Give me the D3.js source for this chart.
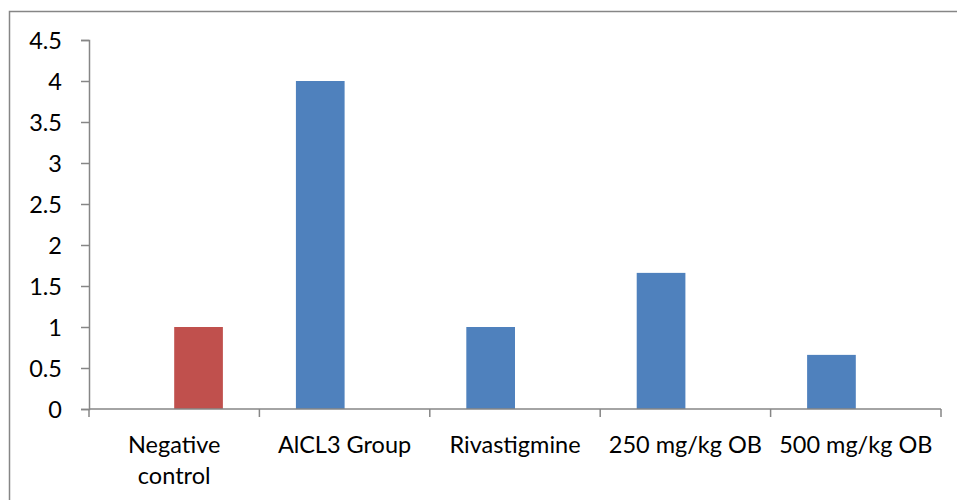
<!DOCTYPE html>
<html>
<head>
<meta charset="utf-8">
<script src="https://cdn.jsdelivr.net/npm/d3@7"></script>
<style>
  html, body { margin: 0; padding: 0; background: #fff; }
  svg { display: block; }
  text { font-family: Lato, "Open Sans", sans-serif; fill: #000; }
</style>
</head>
<body>
<svg id="chart" width="957" height="500"></svg>
<script>
const categories = ["Negative control", "AlCL3 Group", "Rivastigmine", "250 mg/kg OB", "500 mg/kg OB"];
const seriesNames = ["Series1", "Series2"];
const series1Values = [null, 4, 1, 1.66, 0.66];
const series2Values = [1, null, null, null, null];
const yTicks = [0, 0.5, 1, 1.5, 2, 2.5, 3, 3.5, 4, 4.5];
const seriesColors = ["#4F81BD", "#C0504D"];

const svg = d3.select("#chart");
const W = 957, H = 500;
const plot = { left: 89, right: 941, top: 40, bottom: 409 };
const FS = 23.5;

// chart area border
svg.append("rect")
  .attr("x", 9.5).attr("y", 11.5)
  .attr("width", W + 20).attr("height", H + 20)
  .attr("fill", "none").attr("stroke", "#868686").attr("stroke-width", 1.5);

const x = d3.scaleBand().domain(categories).range([plot.left, plot.right]).padding(0);
const xs = d3.scaleBand().domain(seriesNames).range([0, x.bandwidth()])
  .paddingInner(0).paddingOuter(0.75);
const y = d3.scaleLinear().domain([0, 4.5]).range([plot.bottom, plot.top]);

const data = [];
categories.forEach((c, i) => {
  [series1Values, series2Values].forEach((arr, s) => {
    if (arr[i] != null) data.push({ cat: c, series: seriesNames[s], value: arr[i], color: seriesColors[s] });
  });
});

svg.append("g").selectAll("rect").data(data).join("rect")
  .attr("x", d => x(d.cat) + xs(d.series))
  .attr("width", xs.bandwidth())
  .attr("y", d => y(d.value))
  .attr("height", d => y(0) - y(d.value))
  .attr("fill", d => d.color);

// Y axis
const yAxis = svg.append("g")
  .attr("transform", `translate(${plot.left},0)`)
  .call(d3.axisLeft(y).tickValues(yTicks).tickSize(8).tickPadding(19).tickFormat(d => String(d)));
yAxis.select(".domain").attr("stroke", "#868686").attr("stroke-width", 1.5);
yAxis.selectAll(".tick line").attr("stroke", "#868686").attr("stroke-width", 1.5);
yAxis.selectAll(".tick text").attr("font-size", FS).attr("font-family", "Lato, sans-serif").attr("dy", "0.36em");

// X axis line and boundary ticks
const xAxisG = svg.append("g");
xAxisG.append("line")
  .attr("x1", plot.left).attr("x2", plot.right)
  .attr("y1", plot.bottom).attr("y2", plot.bottom)
  .attr("stroke", "#868686").attr("stroke-width", 1.5);
const boundaries = categories.map(c => x(c)).concat([x(categories[categories.length - 1]) + x.bandwidth()]);
xAxisG.selectAll("line.tk").data(boundaries).join("line")
  .attr("class", "tk")
  .attr("x1", d => d).attr("x2", d => d)
  .attr("y1", plot.bottom).attr("y2", plot.bottom + 8)
  .attr("stroke", "#868686").attr("stroke-width", 1.5);

// category labels
const labelLines = {
  "Negative control": ["Negative", "control"]
};
const lab = xAxisG.selectAll("text.cl").data(categories).join("text")
  .attr("class", "cl")
  .attr("text-anchor", "middle")
  .attr("font-size", FS)
  .attr("x", d => x(d) + x.bandwidth() / 2)
  .attr("y", 453);
lab.each(function(d) {
  const lines = labelLines[d] || [d];
  const t = d3.select(this);
  lines.forEach((ln, i) => {
    t.append("tspan").attr("x", x(d) + x.bandwidth() / 2).attr("dy", i === 0 ? 0 : 31).text(ln);
  });
});
</script>
</body>
</html>
